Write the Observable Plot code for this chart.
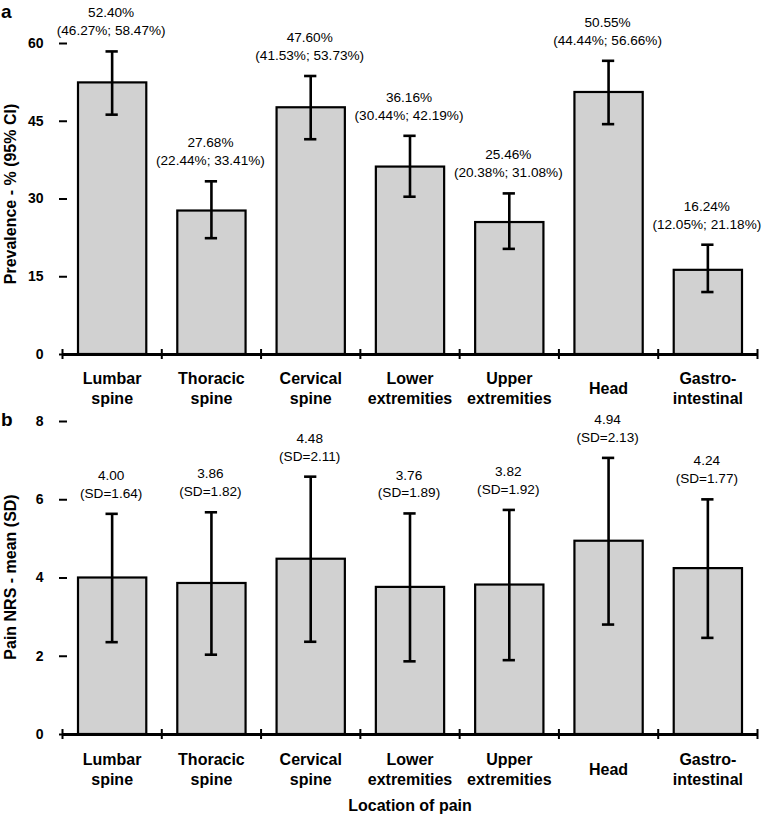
<!DOCTYPE html>
<html>
<head>
<meta charset="utf-8">
<script src="https://cdn.jsdelivr.net/npm/d3@7"></script>
<script src="https://cdn.jsdelivr.net/npm/@observablehq/plot@0.6"></script>
<style>
  html, body { margin: 0; padding: 0; background: #fff; }
  #wrap { position: relative; width: 762px; height: 814px; font-family: "Liberation Sans", Arial, sans-serif; }
  .panel { position: absolute; left: 0; }
  .letter { position: absolute; left: 1px; font-weight: bold; font-size: 19px; line-height: 1; }
</style>
</head>
<body>
<div id="wrap">
  <div id="pa" class="panel" style="top:0"></div>
  <div id="pb" class="panel" style="top:410px"></div>
  <div class="letter" style="top:2px">a</div>
  <div class="letter" style="top:410px">b</div>
</div>
<script>
const categories = ["Lumbar spine", "Thoracic spine", "Cervical spine", "Lower extremities", "Upper extremities", "Head", "Gastro-intestinal"];
const categoryLabels = ["Lumbar\nspine", "Thoracic\nspine", "Cervical\nspine", "Lower\nextremities", "Upper\nextremities", "Head", "Gastro-\nintestinal"];
const prevalence = [52.40, 27.68, 47.60, 36.16, 25.46, 50.55, 16.24];
const ciLow = [46.27, 22.44, 41.53, 30.44, 20.38, 44.44, 12.05];
const ciHigh = [58.47, 33.41, 53.73, 42.19, 31.08, 56.66, 21.18];
const nrsMean = [4.00, 3.86, 4.48, 3.76, 3.82, 4.94, 4.24];
const nrsSD = [1.64, 1.82, 2.11, 1.89, 1.92, 2.13, 1.77];
const prevTicks = [0, 15, 30, 45, 60];
const nrsTicks = [0, 2, 4, 6, 8];

const boundaries = d3.range(categories.length + 1);
const font = "Liberation Sans, Arial, sans-serif";

const prevData = categories.map((c, i) => ({
  i, label: categoryLabels[i], v: prevalence[i], lo: ciLow[i], hi: ciHigh[i],
  txt: `${prevalence[i].toFixed(2)}%\n(${ciLow[i].toFixed(2)}%; ${ciHigh[i].toFixed(2)}%)`
}));
const nrsData = categories.map((c, i) => ({
  i, label: categoryLabels[i], v: nrsMean[i], lo: nrsMean[i] - nrsSD[i], hi: nrsMean[i] + nrsSD[i],
  txt: `${nrsMean[i].toFixed(2)}\n(SD=${nrsSD[i].toFixed(2)})`
}));

function panel(data, ticks, yLabel, opts) {
  return Plot.plot({
    width: 762,
    height: opts.height,
    marginLeft: 62,
    marginRight: 5,
    marginTop: opts.marginTop,
    marginBottom: opts.marginBottom,
    style: { fontFamily: font, color: "black", background: "transparent", overflow: "visible" },
    x: { domain: [0, categories.length], axis: null },
    y: { domain: [ticks[0], ticks[ticks.length - 1]] },
    marks: [
      Plot.rectY(data, { x1: "i", x2: d => d.i + 1, y1: 0, y2: "v", insetLeft: 16, insetRight: 15, fill: "#d1d1d1", stroke: "black", strokeWidth: 2.2 }),
      Plot.ruleX(data, { x: d => d.i + 0.5, y1: "lo", y2: "hi", stroke: "black", strokeWidth: 2.6 }),
      Plot.ruleY(data, { y: "hi", x1: "i", x2: d => d.i + 1, insetLeft: 43.5, insetRight: 43.5, stroke: "black", strokeWidth: 2.6 }),
      Plot.ruleY(data, { y: "lo", x1: "i", x2: d => d.i + 1, insetLeft: 43.5, insetRight: 43.5, stroke: "black", strokeWidth: 2.6 }),
      Plot.text(data, { x: d => d.i + 0.5, y: "hi", text: "txt", lineAnchor: "bottom", dy: -16, dx: -1, fontSize: 13.6, lineHeight: 1.32, fill: "black" }),
      Plot.ruleY([0], { stroke: "black", strokeWidth: 3 }),
      Plot.ruleX(boundaries, { x: d => d, y1: 0, y2: 0, insetTop: 5, insetBottom: 5, stroke: "black", strokeWidth: 2 }),
      Plot.text(data, { x: d => d.i + 0.5, frameAnchor: "bottom", text: "label", lineAnchor: "middle", dy: opts.labelDy, fontSize: 16, fontWeight: "bold", lineHeight: 1.25, fill: "black" }),
      Plot.axisY({ ticks, tickSize: 8, tickPadding: 16, dx: 5, label: null, fontSize: 14, fontWeight: "bold", strokeWidth: 2, tickFormat: d => String(d) }),
      Plot.text([yLabel], { text: d => d, frameAnchor: "left", textAnchor: "middle", rotate: -90, dx: -52, dy: opts.yLabelDy, fontSize: 16, fontWeight: "bold", lineAnchor: "middle", fill: "black" }),
      ...(opts.xLabel ? [Plot.text([opts.xLabel], { text: d => d, frameAnchor: "bottom", textAnchor: "middle", dy: 76, fontSize: 16, fontWeight: "bold", fill: "black" })] : [])
    ]
  });
}

document.getElementById("pa").appendChild(panel(prevData, prevTicks, "Prevalence - % (95% CI)", {
  height: 410, marginTop: 43, marginBottom: 56, labelDy: 33, yLabelDy: -5
}));
document.getElementById("pb").appendChild(panel(nrsData, nrsTicks, "Pain NRS - mean (SD)", {
  height: 404, marginTop: 11, marginBottom: 80, labelDy: 34, yLabelDy: -1, xLabel: "Location of pain"
}));
</script>
</body>
</html>
